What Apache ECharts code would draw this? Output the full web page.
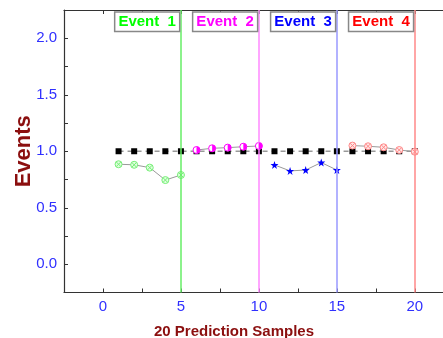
<!DOCTYPE html>
<html lang="en">
<head>
    <meta charset="UTF-8">
    <title>Events</title>
    <script src="https://cdn.jsdelivr.net/npm/echarts@6/dist/echarts.min.js"></script>
    <style>
        html, body { margin: 0; padding: 0; background: #fff; }
        #container { width: 443px; height: 338px; }
    </style>
</head>
<body>
<div id="container"></div>
<script type="text/javascript">
    // 20 prediction samples, baseline at 1.0
    let baseX = [1,2,3,4,5,6,7,8,9,10,11,12,13,14,15,16,17,18,19,20];
    let baseY = [1,1,1,1,1,1,1,1,1,1,1,1,1,1,1,1,1,1,1,1];

    let event1X = [1,2,3,4,5];
    let event1Y = [0.885,0.88,0.855,0.745,0.79];
    let event2X = [6,7,8,9,10];
    let event2Y = [1.011,1.026,1.032,1.04,1.047];
    let event3X = [11,12,13,14,15];
    let event3Y = [0.879,0.826,0.834,0.9,0.834];
    let event4X = [16,17,18,19,20];
    let event4Y = [1.05,1.044,1.035,1.011,0.996];

    let eventNames = ['Event  1','Event  2','Event  3','Event  4'];
    let eventAt = [5,10,15,20];
    let labelY = 2.145;

    let xTicks = [0,5,10,15,20];
    let yTicks = [0,0.5,1,1.5,2];

    let labelColors = ['#00ff00','#ff00ff','#0000ff','#ff0000'];
    let lineColors = ['#66ee66','#ff88ff','#9999ff','#ff8888'];

    function pairs(xs, ys){
        let out = [];
        for (let i = 0; i < xs.length; i++) {
            out.push([xs[i], ys[i]]);
        }
        return out;
    }

    let crossCircle = 'path://M0,5A5,5 0 1,1 10,5A5,5 0 1,1 0,5ZM1.6,1.6L8.4,8.4M8.4,1.6L1.6,8.4';
    let star = 'path://M5,0L6.18,3.38L9.76,3.45L6.9,5.62L7.94,9.05L5,7L2.06,9.05L3.1,5.62L0.24,3.45L3.82,3.38Z';
    let halfDisc = 'path://M0,0A5,5 0 0,1 0,10Z';

    let dom = document.getElementById("container");
    let myChart = echarts.init(dom);

    let axisFont = {
        color: '#3030ff',
        fontSize: 15,
        fontFamily: 'Liberation Sans, Arial, sans-serif'
    };

    let option = {
        animation: false,
        grid: {
            left: 64,
            right: -3,
            top: 10,
            bottom: 45.5,
            containLabel: false,
            outerBoundsMode: 'none'
        },
        xAxis: [
            {
                type: 'value',
                min: -2.5,
                max: 22,
                interval: 2.5,
                name: '20 Prediction Samples',
                nameLocation: 'middle',
                nameGap: 32,
                nameMoveOverlap: false,
                nameTextStyle: {
                    color: '#8b0f0f',
                    fontSize: 15,
                    fontWeight: 'bold',
                    fontFamily: 'Liberation Sans, Arial, sans-serif',
                    padding: [0, 42, 0, 0]
                },
                axisLine: { onZero: false, lineStyle: { color: '#333', width: 1.2 } },
                axisTick: { inside: true, length: 4, lineStyle: { color: '#333' } },
                splitLine: { show: false },
                axisLabel: Object.assign({
                    margin: 7,
                    formatter: function(v){
                        return xTicks.indexOf(v) >= 0 ? String(v) : '';
                    }
                }, axisFont)
            },
            {
                type: 'value',
                position: 'top',
                min: -2.5,
                max: 22,
                interval: 2.5,
                axisLine: { onZero: false, lineStyle: { color: '#333', width: 1.2 } },
                axisTick: { inside: true, length: 4, lineStyle: { color: '#333' } },
                splitLine: { show: false },
                axisLabel: { show: false }
            }
        ],
        yAxis: {
            type: 'value',
            min: -0.25,
            max: 2.25,
            interval: 0.25,
            name: 'Events',
            nameLocation: 'middle',
            nameGap: 29,
            nameMoveOverlap: false,
            nameTextStyle: {
                color: '#8b0f0f',
                fontSize: 22,
                fontWeight: 'bold',
                fontFamily: 'Liberation Sans, Arial, sans-serif'
            },
            axisLine: { show: true, onZero: false, lineStyle: { color: '#333', width: 1.2 } },
            axisTick: { show: true, inside: true, length: 4, lineStyle: { color: '#333' } },
            splitLine: { show: false },
            axisLabel: Object.assign({
                margin: 7,
                formatter: function(v){
                    for (let i = 0; i < yTicks.length; i++) {
                        if (Math.abs(yTicks[i] - v) < 1e-6) return yTicks[i].toFixed(1);
                    }
                    return '';
                }
            }, axisFont)
        },
        series: [
            {
                name: 'events',
                type: 'line',
                data: [],
                markLine: {
                    silent: true,
                    symbol: 'none',
                    label: { show: false },
                    data: eventAt.map(function(x, i){
                        return { xAxis: x, lineStyle: { color: lineColors[i], width: 1.5, type: 'solid' } };
                    })
                },
                markPoint: {
                    silent: true,
                    symbol: 'rect',
                    symbolSize: 0,
                    data: eventAt.map(function(x, i){
                        return {
                            coord: [x, labelY],
                            label: {
                                show: true,
                                position: 'left',
                                distance: 2,
                                formatter: eventNames[i],
                                color: labelColors[i],
                                fontSize: 15,
                                fontWeight: 'bold',
                                fontFamily: 'Liberation Sans, Arial, sans-serif',
                                backgroundColor: '#fff',
                                borderColor: '#888',
                                borderWidth: 1.5,
                                padding: [2, 3, 1, 3]
                            }
                        };
                    })
                }
            },
            {
                name: 'baseline',
                type: 'line',
                data: pairs(baseX, baseY),
                symbol: 'rect',
                symbolSize: 6,
                itemStyle: { color: '#000' },
                lineStyle: { color: '#999', width: 1.5, type: [5, 4] },
                z: 3
            },
            {
                name: 'event1',
                type: 'line',
                data: pairs(event1X, event1Y),
                symbol: crossCircle,
                symbolSize: 7,
                itemStyle: { color: '#dfffdf', borderColor: '#77ee77', borderWidth: 1 },
                lineStyle: { color: '#999', width: 1 }
            },
            {
                name: 'event2',
                type: 'line',
                data: pairs(event2X, event2Y),
                symbol: 'circle',
                symbolSize: 7,
                itemStyle: { color: '#fff', borderColor: '#ff00ff', borderWidth: 1 },
                lineStyle: { color: '#999', width: 1 },
                z: 4
            },
            {
                name: 'event2half',
                type: 'line',
                data: pairs(event2X, event2Y),
                symbol: halfDisc,
                symbolSize: [3.5, 7],
                symbolOffset: [1.75, 0],
                itemStyle: { color: '#ff00ff' },
                lineStyle: { width: 0, opacity: 0 },
                z: 5
            },
            {
                name: 'event3',
                type: 'line',
                data: pairs(event3X, event3Y),
                symbol: star,
                symbolSize: 8,
                itemStyle: { color: '#0000ff' },
                lineStyle: { color: '#999', width: 1 }
            },
            {
                name: 'event4',
                type: 'line',
                data: pairs(event4X, event4Y),
                symbol: crossCircle,
                symbolSize: 7,
                itemStyle: { color: '#ffe6e6', borderColor: '#ff8888', borderWidth: 1 },
                lineStyle: { color: '#999', width: 1 }
            }
        ]
    };
    myChart.setOption(option);
</script>
</body>
</html>
